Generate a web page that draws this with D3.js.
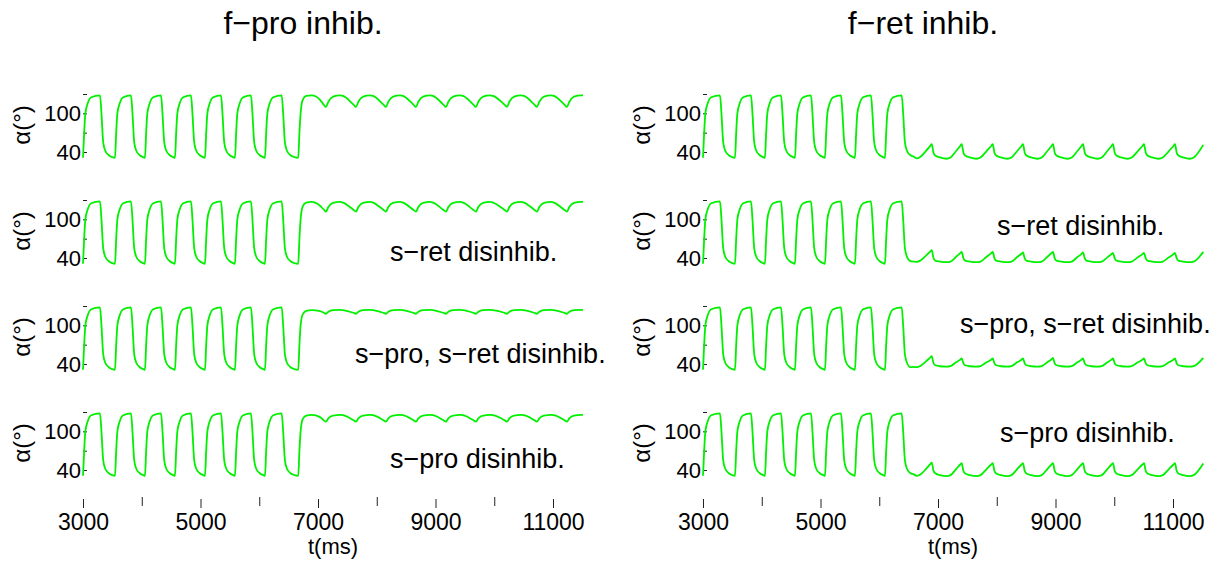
<!DOCTYPE html>
<html>
<head>
<meta charset="utf-8">
<script src="https://cdn.jsdelivr.net/npm/d3@7"></script>
<style>
  body { margin: 0; background: #fff; }
  svg text { font-family: "Liberation Sans", Arial, sans-serif; fill: #000; }
</style>
</head>
<body>
<div id="chart"></div>
<script>
// panel titles and per-row notes
var panelTitles = ["f\u2212pro inhib.", "f\u2212ret inhib."];
var rowNotes = ["", "s\u2212ret disinhib.", "s\u2212pro, s\u2212ret disinhib.", "s\u2212pro disinhib."];

var xTicks = [3000, 4000, 5000, 6000, 7000, 8000, 9000, 10000, 11000];
var xTickLabels = ["3000", "", "5000", "", "7000", "", "9000", "", "11000"];
var yTicks = [40, 70, 100, 130];
var yTickLabels = ["40", "", "100", ""];

// bursting phase, same in all eight traces: [t (ms), alpha (deg)]
var burst = [
  [3000,31],[3020,70],[3040,100],[3075,114],[3140,125],[3289,128],[3314,100],[3344,55],[3379,42],[3439,35],[3499,32],
  [3545,31],[3565,70],[3585,100],[3620,114],[3685,125],[3817,128],[3842,100],[3872,55],[3907,42],[3967,35],[4027,32],
  [4055,31],[4075,70],[4095,100],[4130,114],[4195,125],[4328,128],[4353,100],[4383,55],[4418,42],[4478,35],[4538,32],
  [4566,31],[4586,70],[4606,100],[4641,114],[4706,125],[4838,128],[4863,100],[4893,55],[4928,42],[4988,35],[5048,32],
  [5077,31],[5097,70],[5117,100],[5152,114],[5217,125],[5349,128],[5374,100],[5404,55],[5439,42],[5499,35],[5559,32],
  [5587,31],[5607,70],[5627,100],[5662,114],[5727,125],[5859,128],[5884,100],[5914,55],[5949,42],[6009,35],[6069,32],
  [6098,31],[6118,70],[6138,100],[6173,114],[6238,125],[6382,128],[6407,100],[6437,55],[6472,42],[6532,35]
];

// f-pro inhib. column, after the switch
var fproTail = [
  [6600,32],[6664,31],[6684,70],[6704,100],[6740,121],[6800,127],[6894,128],[7035,121],[7100,113],[7136,110],
  [7176,118],[7256,126],[7376,128],[7426,127],[7600,114],[7647,110],
  [7687,118],[7767,126],[7887,128],[7937,127],[8110,114],[8157,110],
  [8197,118],[8277,126],[8397,128],[8447,127],[8620,114],[8668,110],
  [8708,118],[8788,126],[8908,128],[8958,127],[9130,114],[9179,110],
  [9219,118],[9299,126],[9419,128],[9469,127],[9640,114],[9689,110],
  [9729,118],[9809,126],[9929,128],[9979,127],[10170,114],[10217,110],
  [10257,118],[10337,126],[10457,128],[10507,127],[10680,114],[10727,110],
  [10767,118],[10847,126],[10967,128],[11017,127],[11190,114],[11238,110],
  [11278,118],[11358,126],[11478,128],[11510,128]
];
var fproSretTail = [
  [6600,32],[6664,31],[6684,70],[6704,100],[6740,120],[6800,126],[6894,127],[7035,121],[7100,115],[7136,112],
  [7176,119],[7256,125.5],[7376,127],[7426,126],[7600,115],[7647,112],
  [7687,119],[7767,125.5],[7887,127],[7937,126],[8110,115],[8157,112],
  [8197,119],[8277,125.5],[8397,127],[8447,126],[8620,115],[8668,112],
  [8708,119],[8788,125.5],[8908,127],[8958,126],[9130,115],[9179,112],
  [9219,119],[9299,125.5],[9419,127],[9469,126],[9640,115],[9689,112],
  [9729,119],[9809,125.5],[9929,127],[9979,126],[10170,115],[10217,112],
  [10257,119],[10337,125.5],[10457,127],[10507,126],[10680,115],[10727,112],
  [10767,119],[10847,125.5],[10967,127],[11017,126],[11190,115],[11238,112],
  [11278,119],[11358,125.5],[11478,127],[11510,127]
];
var fproBothTail = [
  [6600,32],[6664,31],[6684,70],[6704,100],[6740,117],[6800,122.5],[6894,123.5],[7035,122],[7100,119.5],[7136,118],
  [7176,121],[7256,123.5],[7376,124],[7426,123.5],[7600,119.5],[7647,118],
  [7687,121],[7767,123.5],[7887,124],[7937,123.5],[8110,119.5],[8157,118],
  [8197,121],[8277,123.5],[8397,124],[8447,123.5],[8620,119.5],[8668,118],
  [8708,121],[8788,123.5],[8908,124],[8958,123.5],[9130,119.5],[9179,118],
  [9219,121],[9299,123.5],[9419,124],[9469,123.5],[9640,119.5],[9689,118],
  [9729,121],[9809,123.5],[9929,124],[9979,123.5],[10170,119.5],[10217,118],
  [10257,121],[10337,123.5],[10457,124],[10507,123.5],[10680,119.5],[10727,118],
  [10767,121],[10847,123.5],[10967,124],[11017,123.5],[11190,119.5],[11238,118],
  [11278,121],[11358,123.5],[11478,124],[11510,124]
];
var fproSproTail = [
  [6600,32],[6664,31],[6684,70],[6704,100],[6740,119],[6800,124.5],[6894,125.5],[7035,122],[7100,117],[7136,115],
  [7176,120],[7256,124.5],[7376,125.5],[7426,125],[7600,117.5],[7647,115],
  [7687,120],[7767,124.5],[7887,125.5],[7937,125],[8110,117.5],[8157,115],
  [8197,120],[8277,124.5],[8397,125.5],[8447,125],[8620,117.5],[8668,115],
  [8708,120],[8788,124.5],[8908,125.5],[8958,125],[9130,117.5],[9179,115],
  [9219,120],[9299,124.5],[9419,125.5],[9469,125],[9640,117.5],[9689,115],
  [9729,120],[9809,124.5],[9929,125.5],[9979,125],[10170,117.5],[10217,115],
  [10257,120],[10337,124.5],[10457,125.5],[10507,125],[10680,117.5],[10727,115],
  [10767,120],[10847,124.5],[10967,125.5],[11017,125],[11190,117.5],[11238,115],
  [11278,120],[11358,124.5],[11478,125.5],[11510,125.5]
];

// f-ret inhib. column, after the switch
var fretTail = [
  [6580,33],[6642,30],[6700,32.5],[6800,42],[6868,49.5],
  [6893,52],[6923,39],[6953,34.5],[7033,31.5],[7143,29.5],[7213,31.5],[7308,41.5],[7378,49.3],
  [7403,52],[7433,39],[7463,34.5],[7543,31.5],[7653,29.5],[7723,31.5],[7827,41.5],[7906,49.3],
  [7931,52],[7961,39],[7991,34.5],[8071,31.5],[8181,29.5],[8251,31.5],[8348,41.5],[8421,49.3],
  [8446,52],[8476,39],[8506,34.5],[8586,31.5],[8696,29.5],[8766,31.5],[8862,41.5],[8932,49.3],
  [8957,52],[8987,39],[9017,34.5],[9097,31.5],[9207,29.5],[9277,31.5],[9373,41.5],[9443,49.3],
  [9468,52],[9498,39],[9528,34.5],[9608,31.5],[9718,29.5],[9788,31.5],[9883,41.5],[9953,49.3],
  [9978,52],[10008,39],[10038,34.5],[10118,31.5],[10228,29.5],[10298,31.5],[10402,41.5],[10481,49.3],
  [10506,52],[10536,39],[10566,34.5],[10646,31.5],[10756,29.5],[10826,31.5],[10930,41.5],[11008,49.3],
  [11033,52],[11063,39],[11093,34.5],[11173,31.5],[11283,29.5],[11353,31.5],[11515,51]
];
var fretSretTail = [
  [6580,34.5],[6642,34],[6700,36],[6800,44],[6868,50],
  [6893,52],[6923,40],[6953,36],[7033,34.5],[7143,33.5],[7213,34.5],[7308,42],[7378,47.5],
  [7403,49.5],[7433,39.5],[7463,36],[7543,34.5],[7653,33.5],[7723,34.5],[7827,42],[7906,47.5],
  [7931,49.5],[7961,39.5],[7991,36],[8071,34.5],[8181,33.5],[8251,34.5],[8348,41.5],[8421,46.5],
  [8446,48.5],[8476,39.5],[8506,36],[8586,34.5],[8696,33.5],[8766,34.5],[8862,42],[8932,47.5],
  [8957,49.5],[8987,39.5],[9017,36],[9097,34.5],[9207,33.5],[9277,34.5],[9373,41.5],[9443,46.5],
  [9468,48.5],[9498,39.5],[9528,36],[9608,34.5],[9718,33.5],[9788,34.5],[9883,41],[9953,46],
  [9978,48],[10008,39.5],[10038,36],[10118,34.5],[10228,33.5],[10298,34.5],[10402,41],[10481,46],
  [10506,48],[10536,39.5],[10566,36],[10646,34.5],[10756,33.5],[10826,34.5],[10930,41],[11008,46],
  [11033,48],[11063,39.5],[11093,36],[11173,34.5],[11283,33.5],[11353,34.5],[11515,49.5]
];
var fretBothTail = [
  [6580,35.5],[6642,35],[6700,37],[6800,44.5],[6868,50],
  [6893,52],[6923,41.5],[6953,38],[7033,36.5],[7143,36],[7213,36.8],[7308,42.6],[7378,46.7],
  [7403,48.8],[7433,41],[7463,38],[7543,36.5],[7653,36],[7723,36.8],[7827,42.6],[7906,46.7],
  [7931,48.8],[7961,41],[7991,38],[8071,36.5],[8181,36],[8251,36.8],[8348,42.6],[8421,46.7],
  [8446,48.8],[8476,41],[8506,38],[8586,36.5],[8696,36],[8766,36.8],[8862,42.8],[8932,47.2],
  [8957,49.3],[8987,41],[9017,38],[9097,36.5],[9207,36],[9277,36.8],[9373,42.6],[9443,46.7],
  [9468,48.8],[9498,41],[9528,38],[9608,36.5],[9718,36],[9788,36.8],[9883,42.6],[9953,46.7],
  [9978,48.8],[10008,41],[10038,38],[10118,36.5],[10228,36],[10298,36.8],[10402,42.6],[10481,46.7],
  [10506,48.8],[10536,41],[10566,38],[10646,36.5],[10756,36],[10826,36.8],[10930,42.6],[11008,46.7],
  [11033,48.8],[11063,41],[11093,38],[11173,36.5],[11283,36],[11353,36.8],[11515,49.6]
];
var fretSproTail = [
  [6580,33.5],[6642,31],[6700,33],[6800,42],[6868,49],
  [6893,51.5],[6923,39],[6953,35],[7033,32],[7143,30.5],[7213,32],[7308,41.5],[7378,48.5],
  [7403,50.5],[7433,38.5],[7463,34.5],[7543,32],[7653,30.5],[7723,32],[7827,41.5],[7906,48.5],
  [7931,50.5],[7961,38.5],[7991,34.5],[8071,32],[8181,30.5],[8251,32],[8348,41.5],[8421,48.5],
  [8446,50.5],[8476,38.5],[8506,34.5],[8586,32],[8696,30.5],[8766,32],[8862,41.5],[8932,48.5],
  [8957,50.5],[8987,38.5],[9017,34.5],[9097,32],[9207,30.5],[9277,32],[9373,41.5],[9443,48.5],
  [9468,50.5],[9498,38.5],[9528,34.5],[9608,32],[9718,30.5],[9788,32],[9883,41.5],[9953,48.5],
  [9978,50.5],[10008,38.5],[10038,34.5],[10118,32],[10228,30.5],[10298,32],[10402,41.5],[10481,48.5],
  [10506,50.5],[10536,38.5],[10566,34.5],[10646,32],[10756,30.5],[10826,32],[10930,41.5],[11008,48.5],
  [11033,50.5],[11063,38.5],[11093,34.5],[11173,32],[11283,30.5],[11353,32],[11515,50]
];

var columns = [
  [fproTail, fproSretTail, fproBothTail, fproSproTail],
  [fretTail, fretSretTail, fretBothTail, fretSproTail]
];

var W = 1215, H = 561;
var svg = d3.select("#chart").append("svg").attr("width", W).attr("height", H);

var colX0 = [83, 703];       // x of t = 3000 in each column
var rowTop = [94, 200, 306, 412];
var rowH = 58;
var pxPerMs = 470 / 8000;

// note placement (text-anchor start, baseline)
var notePos = [
  [null, [390, 261], [355, 363], [390, 468]],
  [null, [997, 235], [960, 333], [1000, 442]]
];

columns.forEach(function(col, ci) {
    var x = d3.scaleLinear().domain([3000, 11000]).range([colX0[ci], colX0[ci] + 8000 * pxPerMs]);

    svg.append("text")
        .attr("x", colX0[ci] + 220).attr("y", 34)
        .attr("text-anchor", "middle")
        .style("font-size", "32px")
        .text(panelTitles[ci]);

    col.forEach(function(tail, ri) {
        var y = d3.scaleLinear().domain([40, 130]).range([rowTop[ri] + rowH, rowTop[ri]]);
        var g = svg.append("g");

        var yAxis = d3.axisLeft(y)
            .tickValues(yTicks)
            .tickFormat(function(d, i) { return yTickLabels[i]; })
            .tickSizeInner(-4).tickSizeOuter(0).tickPadding(2);
        var ya = g.append("g").attr("transform", "translate(" + colX0[ci] + ",0)").call(yAxis);
        ya.select(".domain").remove();
        ya.selectAll("line").attr("stroke", "#222");
        ya.selectAll("text").style("font-size", "22px").attr("font-family", null);

        svg.append("text")
            .attr("transform", "translate(" + (colX0[ci] - 53) + "," + (rowTop[ri] + 31) + ") rotate(-90)")
            .attr("text-anchor", "middle")
            .style("font-size", "24px")
            .text("\u03b1(\u00b0)");

        var line = d3.line()
            .x(function(d) { return x(d[0]); })
            .y(function(d) { return y(d[1]); })
            .curve(d3.curveMonotoneX);

        g.append("path")
            .datum(burst.concat(tail))
            .attr("fill", "none")
            .attr("stroke", "#00f000")
            .attr("stroke-width", 1.8)
            .attr("stroke-linejoin", "round")
            .attr("d", line);

        if (rowNotes[ri]) {
            svg.append("text")
                .attr("x", notePos[ci][ri][0]).attr("y", notePos[ci][ri][1])
                .style("font-size", "27px")
                .text(rowNotes[ri]);
        }
    });

    var xAxis = d3.axisBottom(x)
        .tickValues(xTicks)
        .tickFormat(function(d, i) { return xTickLabels[i]; })
        .tickSizeInner(9).tickSizeOuter(0).tickPadding(6);
    var xa = svg.append("g").attr("transform", "translate(0,499)").call(xAxis);
    xa.select(".domain").remove();
    xa.selectAll("line").attr("stroke", "#222");
    xa.selectAll(".tick").filter(function(d, i) { return !xTickLabels[i]; })
        .select("line").attr("y1", -2).attr("y2", 7);
    xa.selectAll("text").style("font-size", "23px").attr("font-family", null);

    svg.append("text")
        .attr("x", colX0[ci] + 250).attr("y", 554)
        .attr("text-anchor", "middle")
        .style("font-size", "22px")
        .text("t(ms)");
});
</script>
</body>
</html>
